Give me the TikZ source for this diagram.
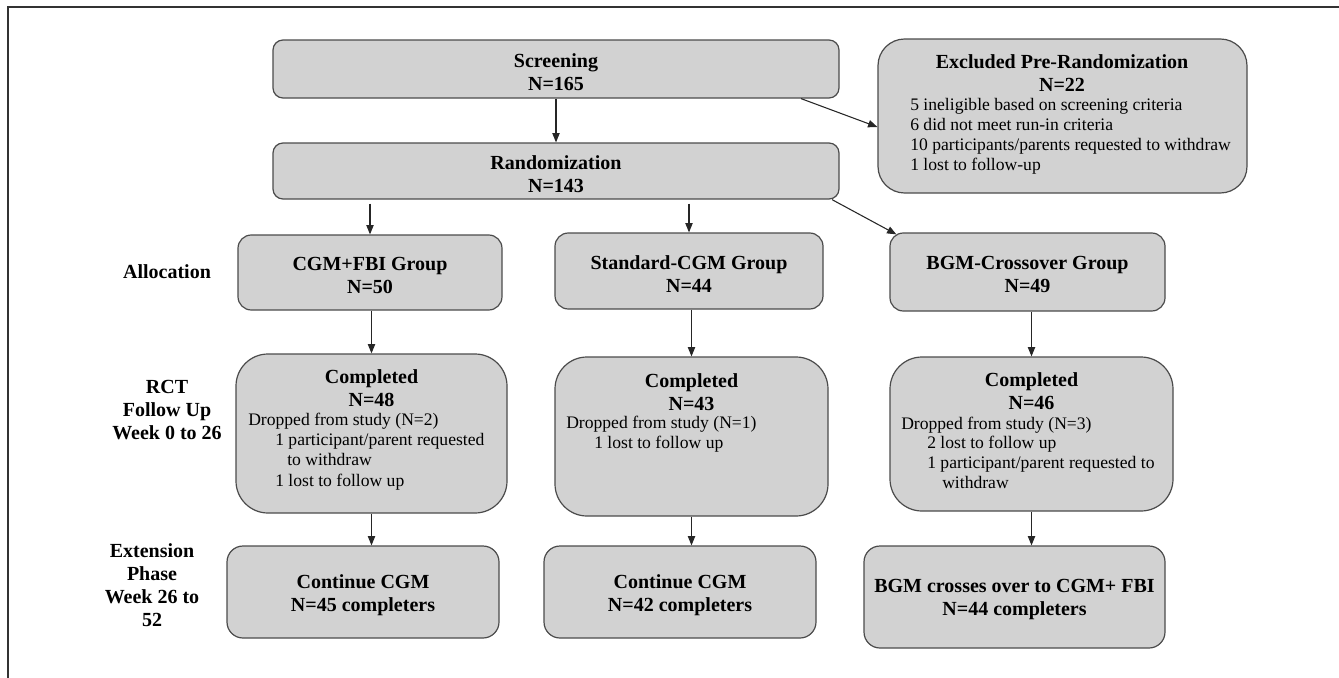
\documentclass[tikz,border=0pt]{standalone}
\usepackage{fontspec}
\setmainfont{Liberation Serif}
\usetikzlibrary{arrows.meta,fit,calc}
\definecolor{boxfill}{RGB}{210,210,210}
\definecolor{boxline}{RGB}{75,75,75}
\newcommand{\tbold}{\fontsize{15}{17.25}\selectfont\bfseries}
\newcommand{\treg}{\fontsize{13.2}{15}\selectfont}
\tikzset{
  box/.style={draw=boxline, fill=boxfill, line width=0.9pt, inner sep=0pt},
  wide/.style={box, rounded corners=7.5pt},
  grp/.style={box, rounded corners=10pt},
  cmp/.style={box, rounded corners=24pt},
  fin/.style={box, rounded corners=12pt},
  exc/.style={box, rounded corners=20pt},
  ttl/.style={inner sep=0pt, align=center, font=\tbold},
  ctr/.style={ttl, yshift=-2.2pt},
  ln/.style={inner sep=0pt, anchor=west, font=\treg, text height=1.5ex, text depth=.25ex},
  lab/.style={inner sep=0pt, align=center, font=\tbold},
  arr/.style={draw=black!85, line width=0.8pt, -{Triangle[length=7pt,width=5.5pt]}}
}
\begin{document}
\begin{tikzpicture}[x=0.75pt,y=-0.75pt]
\useasboundingbox (0,0) rectangle (1339,678);
% frame
\draw[line width=1.4pt, black!80] (8,678) -- (8,7) -- (1339,7);

% top boxes
\node[wide, fit={(273,40) (839,98)}] (scr) {};
\node[ctr] (scrt) at (scr.center) {Screening\\N=165};
\node[wide, fit={(273,143) (839,199)}] (rand) {};
\node[ctr] (randt) at (rand.center) {Randomization\\N=143};
\node[exc, fit={(878,39) (1247,193)}] (excl) {};
\node[ttl] (exclt) at (1062,73.5) {Excluded Pre-Randomization\\N=22};
\node[ln] (e1) at (910,107) {5 ineligible based on screening criteria};
\node[ln] (e2) at (910,127) {6 did not meet run-in criteria};
\node[ln] (e3) at (910,147) {10 participants/parents requested to withdraw};
\node[ln] (e4) at (910,167) {1 lost to follow-up};

% group boxes
\node[grp, fit={(238,235) (502,310)}] (g1) {};
\node[ctr] (g1t) at (g1.center) {CGM+FBI Group\\N=50};
\node[grp, fit={(555,233) (823,309)}] (g2) {};
\node[ctr] (g2t) at (g2.center) {Standard-CGM Group\\N=44};
\node[grp, fit={(890,233) (1165,311)}] (g3) {};
\node[ctr] (g3t) at (g3.center) {BGM-Crossover Group\\N=49};

% completed boxes
\node[cmp, fit={(236,354) (507,513)}] (c1) {};
\node[ttl] (c1t) at (371.5,388.5) {Completed\\N=48};
\node[ln] (c1a) at (248,422) {Dropped from study (N=2)};
\node[ln] (c1b) at (275,442) {1 participant/parent requested};
\node[ln] (c1c) at (287,462) {to withdraw};
\node[ln] (c1d) at (275,483) {1 lost to follow up};

\node[cmp, fit={(555,357) (828,516)}] (c2) {};
\node[ttl] (c2t) at (691.5,392) {Completed\\N=43};
\node[ln] (c2a) at (566,425) {Dropped from study (N=1)};
\node[ln] (c2b) at (594,445) {1 lost to follow up};

\node[cmp, fit={(890,357) (1173,511)}] (c3) {};
\node[ttl] (c3t) at (1031.5,391.5) {Completed\\N=46};
\node[ln] (c3a) at (901,426) {Dropped from study (N=3)};
\node[ln] (c3b) at (927,445) {2 lost to follow up};
\node[ln] (c3c) at (927,465) {1 participant/parent requested to};
\node[ln] (c3d) at (942,485) {withdraw};

% final boxes
\node[fin, fit={(227,546) (499,638)}] (f1) {};
\node[ctr] (f1t) at (f1.center) {Continue CGM\\N=45 completers};
\node[fin, fit={(544,546) (816,638)}] (f2) {};
\node[ctr] (f2t) at (f2.center) {Continue CGM\\N=42 completers};
\node[fin, fit={(864,546) (1165,648)}] (f3) {};
\node[ctr] (f3t) at (f3.center) {BGM crosses over to CGM+ FBI\\N=44 completers};

% left labels
\node[lab] (lalloc) at (167,272) {Allocation};
\node[lab] (lrct) at (167,410.5) {RCT\\Follow Up\\Week 0 to 26};
\node[lab] (lext) at (152,585) {Extension\\Phase\\Week 26 to\\52};

% connectors
\draw[arr] (scr.south) -- (rand.north);
\draw[arr] ($(scr.south)+(245,0)$) -- ($(excl.west)+(0,11)$);
\draw[arr, shorten <=3pt] (rand.south -| g1.north) -- (g1.north);
\draw[arr, shorten <=3pt] (rand.south -| g2.north) -- (g2.north);
\draw[arr] ($(rand.south)+(276,0)$) -- ($(g3.north west)+(7,2)$);
\draw[arr] (c1.north |- g1.south) -- (c1.north);
\draw[arr] (c2.north |- g2.south) -- (c2.north);
\draw[arr] (c3.north |- g3.south) -- (c3.north);
\draw[arr] (c1.south) -- (c1.south |- f1.north);
\draw[arr] (c2.south) -- (c2.south |- f2.north);
\draw[arr] (c3.south) -- (c3.south |- f3.north);
\end{tikzpicture}
\end{document}
